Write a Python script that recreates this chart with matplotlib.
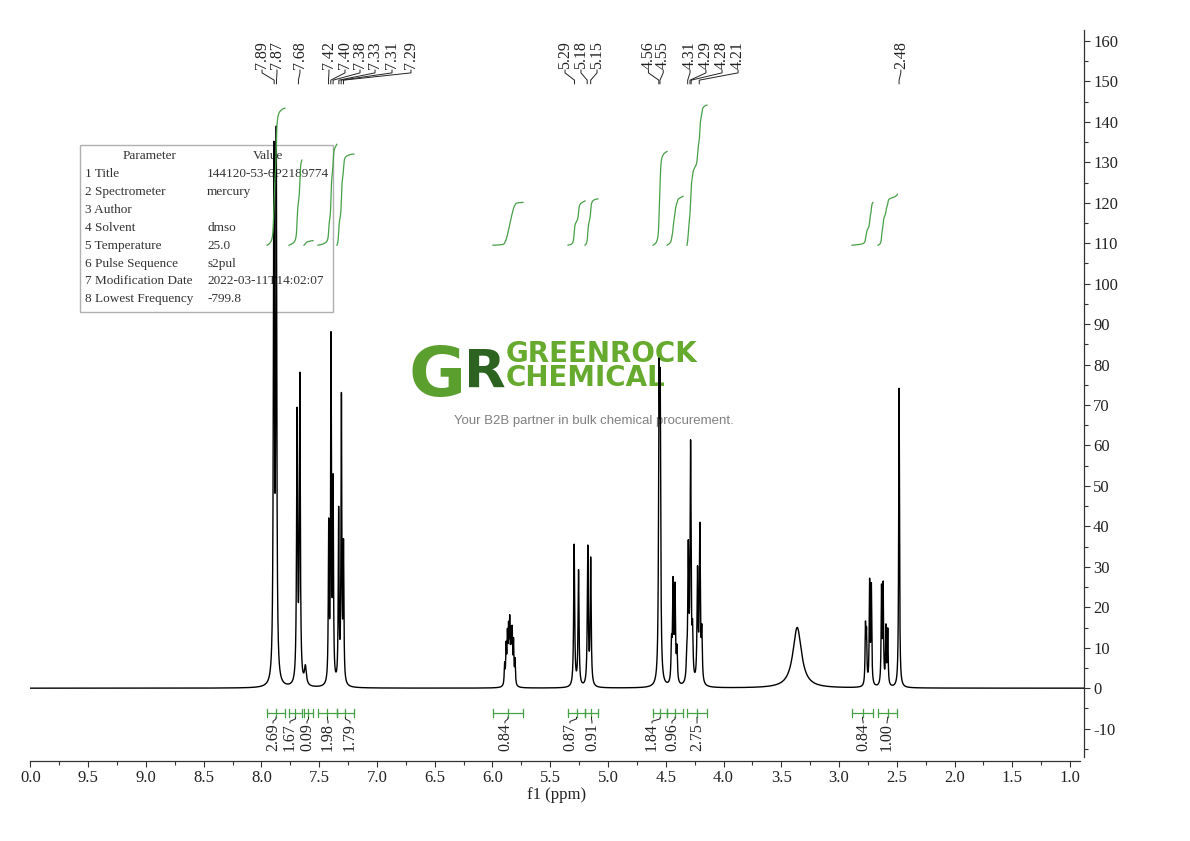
import numpy as np
import matplotlib
matplotlib.use("Agg")
import matplotlib.pyplot as plt
from matplotlib.patches import Rectangle

# ---------------- data ----------------
# peak list of the spectrum: position (ppm), height, half width (ppm)
peak_ppm = [7.893, 7.872, 7.692, 7.668, 7.620,
            7.418, 7.398, 7.380, 7.332, 7.308, 7.290,
            5.895, 5.882, 5.871, 5.861, 5.851, 5.840, 5.830, 5.818, 5.805,
            5.293, 5.255, 5.175, 5.150,
            4.558, 4.548,
            4.450, 4.437, 4.420, 4.403,
            4.318, 4.305, 4.285, 4.268, 4.225, 4.205, 4.188,
            3.362,
            2.771, 2.762, 2.735, 2.720, 2.632, 2.618, 2.594, 2.578,
            2.480]
peak_height = [128, 132, 66, 75, 4.5,
               38, 84, 48, 42, 70, 33,
               5, 9, 11, 12, 14, 11, 12, 10, 6,
               35, 28.5, 34, 31,
               68, 65,
               9, 24, 23, 8,
               5, 32, 58, 11, 27, 38, 12,
               15,
               14, 12, 25, 24, 23.5, 24, 14, 13.5,
               74]
peak_hwhm = [0.005, 0.005, 0.005, 0.005, 0.010,
             0.004, 0.004, 0.004, 0.004, 0.004, 0.004,
             0.004, 0.004, 0.004, 0.004, 0.004, 0.004, 0.004, 0.004, 0.004,
             0.005, 0.005, 0.005, 0.005,
             0.005, 0.005,
             0.005, 0.005, 0.005, 0.005,
             0.005, 0.005, 0.005, 0.005, 0.005, 0.005, 0.005,
             0.045,
             0.004, 0.004, 0.004, 0.004, 0.004, 0.004, 0.004, 0.004,
             0.004]

# peak labels (top)
peak_labels = ['7.89', '7.87', '7.68', '7.42', '7.40', '7.38', '7.33', '7.31', '7.29',
               '5.29', '5.18', '5.15', '4.56', '4.55', '4.31', '4.29', '4.28', '4.21', '2.48']
peak_label_at = [7.995, 7.866, 7.667, 7.416, 7.277, 7.147, 7.017, 6.870, 6.706,
                 5.372, 5.234, 5.095, 4.650, 4.522, 4.290, 4.152, 4.013, 3.874, 2.465]

# integrations
int_start = [7.952, 7.762, 7.632, 7.511, 7.347, 5.996, 5.346, 5.199, 4.610, 4.489, 4.316, 2.887, 2.662]
int_end = [7.797, 7.650, 7.554, 7.347, 7.200, 5.736, 5.199, 5.087, 4.489, 4.350, 4.143, 2.706, 2.495]
int_value = [2.69, 1.67, 0.09, 1.98, 1.79, 0.84, 0.87, 0.91, 1.84, 0.96, 2.75, 0.84, 1.00]
int_label_at = [7.900, 7.753, 7.606, 7.424, 7.234, 5.892, 5.329, 5.139, 4.619, 4.446, 4.229, 2.792, 2.584]

# axes ticks
x_major = [10.0, 9.5, 9.0, 8.5, 8.0, 7.5, 7.0, 6.5, 6.0, 5.5, 5.0, 4.5, 4.0, 3.5, 3.0, 2.5, 2.0, 1.5, 1.0]
x_tick_labels = ['0.0', '9.5', '9.0', '8.5', '8.0', '7.5', '7.0', '6.5', '6.0', '5.5',
                 '5.0', '4.5', '4.0', '3.5', '3.0', '2.5', '2.0', '1.5', '1.0']
y_major = list(range(-10, 161, 10))

# parameter table
param_names = ['Title', 'Spectrometer', 'Author', 'Solvent', 'Temperature',
               'Pulse Sequence', 'Modification Date', 'Lowest Frequency']
param_values = ['144120-53-6P2189774', 'mercury', '', 'dmso', '25.0',
                's2pul', '2022-03-11T14:02:07', '-799.8']

# ---------------- figure ----------------
W, H = 1190, 841
fig = plt.figure(figsize=(W / 100, H / 100), dpi=100)
FONT = 'Liberation Serif'
plt.rcParams['font.family'] = [FONT, 'DejaVu Serif']

def fx(x):
    return x / W

def fy(y):
    return 1 - y / H

ax = fig.add_axes([fx(30), fy(761), fx(1084) - fx(30), fy(30) - fy(761)])
XL = (10.004, 0.879)
ax.set_xlim(*XL)
ax.set_ylim(-18.0, 162.7)

ppm = np.linspace(10.05, 0.85, 46000)

def spectrum(x):
    y = np.zeros_like(x)
    for p, h, g in zip(peak_ppm, peak_height, peak_hwhm):
        y += h * g * g / ((x - p) ** 2 + g * g)
    return y

spec = spectrum(ppm)
ax.plot(ppm, spec, color='black', lw=1.0, zorder=3)

green = '#46a046'
INT_BASE = 109.5
INT_SCALE = 12.6
for s, e, v in zip(int_start, int_end, int_value):
    xx = np.linspace(s, e, 1500)
    yy = spectrum(xx)
    c = np.concatenate([[0], np.cumsum((yy[1:] + yy[:-1]) / 2)])
    c = c / c[-1]
    ax.plot(xx, INT_BASE + c * v * INT_SCALE, color=green, lw=0.9, zorder=4)

# integration brackets and labels
BY = -6.2
for s, e, v, lx in zip(int_start, int_end, int_value, int_label_at):
    m = (s + e) / 2
    ax.plot([s, e], [BY, BY], color=green, lw=0.9, clip_on=False, zorder=4)
    for xv in (s, m, e):
        ax.plot([xv, xv], [BY - 1.0, BY + 1.0], color=green, lw=0.9, clip_on=False, zorder=4)
    ax.plot([m, m, lx, lx], [BY - 1.0, -7.6, -8.2, -8.6], color='#222222', lw=0.7,
            clip_on=False, zorder=4)
    ax.text(lx, -8.7, '%.2f' % v, rotation=90, ha='center', va='top',
            fontsize=11.5, color='#222222', zorder=5)

# peak labels
for lab, lx in zip(peak_labels, peak_label_at):
    p = float(lab)
    ax.plot([lx, lx, p, p], [152.8, 152.1, 150.3, 149.4], color='#222222', lw=0.7,
            clip_on=False, zorder=4)
    ax.text(lx, 153.0, lab, rotation=90, ha='center', va='bottom', fontsize=11.5,
            color='#222222', zorder=5)

# axes styling
for sp in ('left', 'top'):
    ax.spines[sp].set_visible(False)
ax.spines['bottom'].set_bounds(XL[0], 0.915)
ax.spines['right'].set_bounds(-17.0, 162.7)
for sp in ('bottom', 'right'):
    ax.spines[sp].set_linewidth(0.9)
    ax.spines[sp].set_color('#333333')

ax.yaxis.tick_right()
ax.set_xticks(x_major)
ax.set_xticklabels(x_tick_labels)
ax.set_xticks(np.arange(9.75, 1.0, -0.5), minor=True)
ax.set_yticks(y_major)
ax.set_yticklabels([str(v) for v in y_major])
ax.set_yticks(np.arange(-15, 160, 10), minor=True)
ax.tick_params(axis='both', which='major', direction='out', length=4.5, width=0.8,
               colors='#333333', labelsize=12, labelcolor='#222222')
ax.tick_params(axis='both', which='minor', direction='out', length=3, width=0.8,
               colors='#333333')
ax.tick_params(axis='x', pad=2)
ax.tick_params(axis='y', pad=2)
ax.set_xlabel('f1 (ppm)', fontsize=12, labelpad=1, color='#222222')

# parameter table
ax.add_patch(Rectangle((fx(80), fy(312)), fx(333) - fx(80), fy(145) - fy(312),
                       transform=fig.transFigure, facecolor='white', edgecolor='#b0b0b0',
                       lw=1.0, clip_on=False, zorder=1))
tkw = dict(transform=fig.transFigure, fontsize=9.5, color='#333333', va='center', zorder=1.5)
ax.text(fx(150), fy(156), 'Parameter', ha='center', **tkw)
ax.text(fx(268), fy(156), 'Value', ha='center', **tkw)
for i, (n, v) in enumerate(zip(param_names, param_values)):
    yy = 174 + 17.9 * i
    ax.text(fx(85), fy(yy), '%d %s' % (i + 1, n), ha='left', **tkw)
    ax.text(fx(207), fy(yy), v, ha='left', **tkw)

# watermark
wkw = dict(transform=fig.transFigure, zorder=1, fontfamily='DejaVu Sans', fontweight='bold')
ax.text(fx(409), fy(396), 'G', fontsize=50, color='#5b9f2e', ha='left', va='baseline', **wkw)
ax.text(fx(464), fy(388), 'R', fontsize=39, color='#2d6320', ha='left', va='baseline', **wkw)
ax.text(fx(506), fy(366), 'GREENROCK\nCHEMICAL', fontsize=20, color='#66aa2e', ha='left',
        va='center', linespacing=0.78, **wkw)
ax.text(fx(594), fy(421), 'Your B2B partner in bulk chemical procurement.', fontsize=9.5,
        color='#808080', ha='center', va='center', transform=fig.transFigure, zorder=1,
        fontfamily='Liberation Sans')

fig.savefig('out.png', dpi=100, facecolor='white')
